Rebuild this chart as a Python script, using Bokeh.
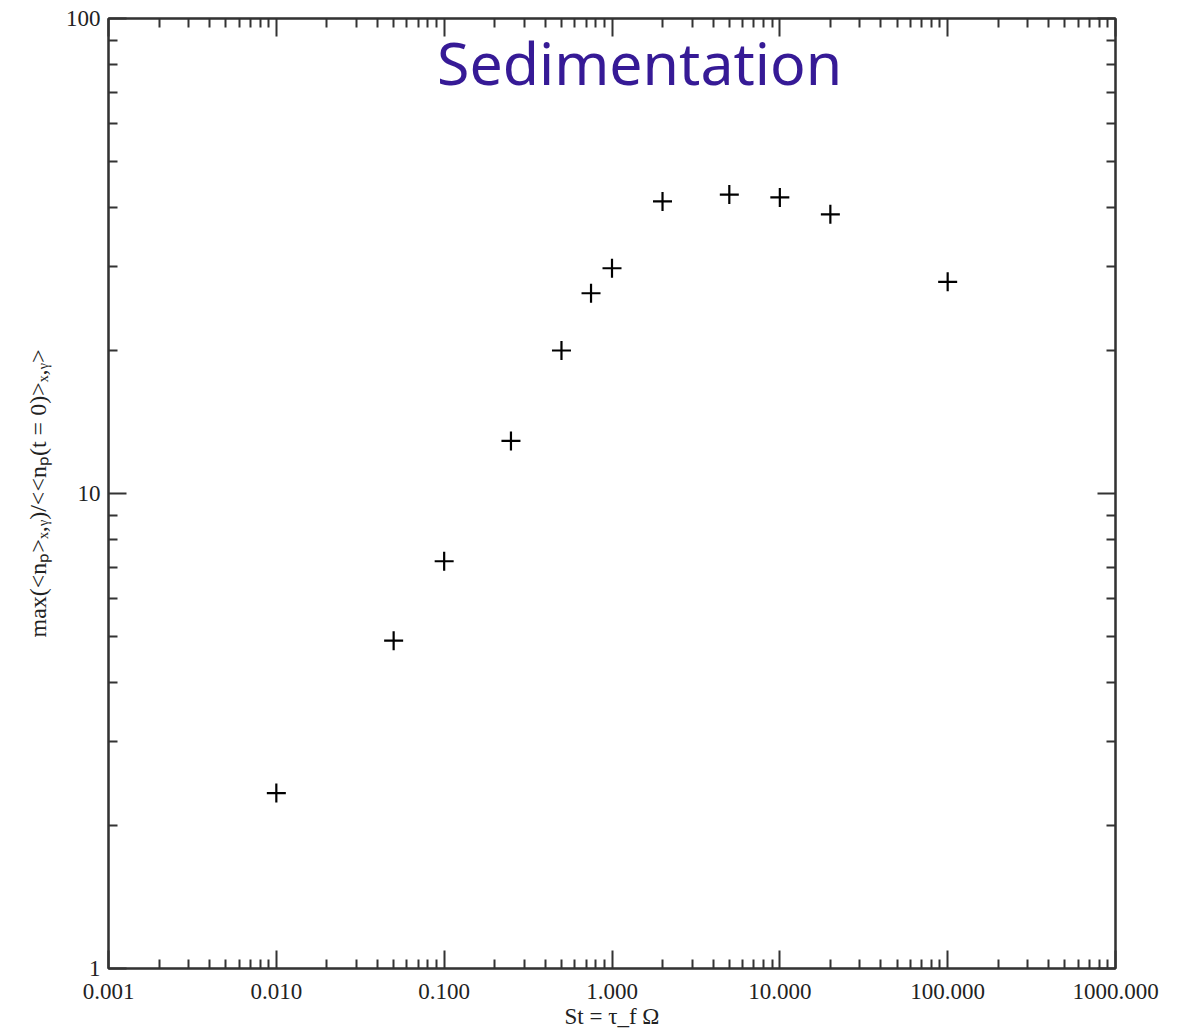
from bokeh.plotting import figure
from bokeh.models import (LogAxis, FixedTicker, CustomJSTickFormatter, Label,
                          ColumnDataSource, Range1d)
from bokeh.embed import file_html
from bokeh.resources import INLINE

# data
stokes = [0.01, 0.05, 0.1, 0.25, 0.5, 0.75, 1.0, 2.0, 5.0, 10.0, 20.0, 100.0]
max_density = [2.34, 4.9, 7.2, 12.9, 20.0, 26.4, 29.8, 41.2, 42.6, 42.0, 38.7, 27.9]

x_major = [0.001, 0.01, 0.1, 1.0, 10.0, 100.0, 1000.0]
y_major = [1, 10, 100]
x_minor = [m * d for d in x_major[:-1] for m in range(2, 10)]
y_minor = [m * d for d in y_major[:-1] for m in range(2, 10)]

title_text = "Sedimentation"
x_label = "St = \u03c4_f \u03a9"
y_label = "max(<n\u209a>\u2093,\u1d67)/<<n\u209a(t = 0)>\u2093,\u1d67>"

src = ColumnDataSource(data=dict(x=stokes, y=max_density))

p = figure(width=1183, height=1033, x_axis_type="log", y_axis_type="log",
           x_range=Range1d(0.001, 1000), y_range=Range1d(1, 100),
           output_backend="svg", toolbar_location=None,
           min_border_left=108, min_border_right=68, min_border_top=18,
           min_border_bottom=65)
p.background_fill_color = "white"
p.border_fill_color = "white"
p.grid.visible = False
p.outline_line_color = "#222222"
p.outline_line_width = 2

p.scatter("x", "y", source=src, marker="cross", size=19, line_width=2.2,
          color="black")

serif = "Liberation Serif"
axis_col = "#333333"

def style(ax, ticks, minor, labels, fmt):
    ax.ticker = FixedTicker(ticks=ticks, minor_ticks=minor)
    ax.axis_line_color = axis_col
    ax.axis_line_width = 2
    ax.major_tick_line_color = axis_col
    ax.minor_tick_line_color = axis_col
    ax.major_tick_line_width = 2
    ax.minor_tick_line_width = 2
    ax.major_tick_in = 18
    ax.major_tick_out = 0
    ax.minor_tick_in = 9
    ax.minor_tick_out = 0
    if labels:
        ax.formatter = CustomJSTickFormatter(code=fmt)
        ax.major_label_text_font = serif
        ax.major_label_text_font_size = "23px"
        ax.major_label_text_color = "#222222"
    else:
        ax.formatter = CustomJSTickFormatter(code="return ''")
        ax.major_label_text_font_size = "0px"
        ax.major_label_standoff = 0

xa = p.xaxis[0]
style(xa, x_major, x_minor, True, "return tick.toFixed(3)")
xa.major_label_standoff = 15
xa.axis_label = x_label
xa.axis_label_text_font = serif
xa.axis_label_text_font_style = "normal"
xa.axis_label_text_font_size = "23px"
xa.axis_label_text_color = "#222222"
xa.axis_label_standoff = 2

ya = p.yaxis[0]
style(ya, y_major, y_minor, True, "return tick.toFixed(0)")
ya.major_label_standoff = 8
ya.axis_label = y_label
ya.axis_label_text_font = serif
ya.axis_label_text_font_style = "normal"
ya.axis_label_text_font_size = "24px"
ya.axis_label_text_color = "#222222"
ya.axis_label_standoff = 12

top = LogAxis()
style(top, x_major, x_minor, False, None)
p.add_layout(top, "above")
right = LogAxis()
style(right, y_major, y_minor, False, None)
p.add_layout(right, "right")

title = Label(x=1.46, y=80.8, text=title_text,
              text_font="Noto Sans", text_font_size="59px",
              text_color="#361a96", text_align="center", text_baseline="alphabetic")
p.add_layout(title)

open("out.html", "w").write(file_html(p, INLINE))
